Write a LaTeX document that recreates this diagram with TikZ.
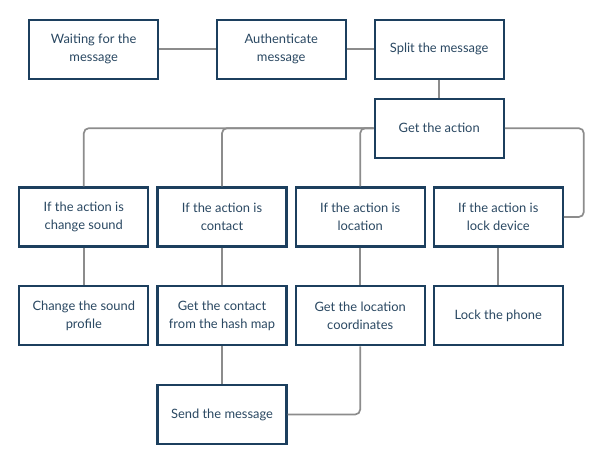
\documentclass[tikz,border=0pt]{standalone}
\usepackage{fontspec}
\setmainfont{Lato}
\definecolor{boxline}{HTML}{1C3F5E}
\definecolor{boxtext}{HTML}{2A4862}
\definecolor{conn}{HTML}{8C8C8C}
\begin{document}
\begin{tikzpicture}[x=1pt,y=-1pt,
  stepbox/.style={draw=boxline, line width=2.2pt, fill=white, minimum width=129pt, minimum height=59pt,
    inner sep=2pt, align=center, text=boxtext, font=\fontsize{12.9}{17.7}\selectfont},
  link/.style={draw=conn, line width=1.7pt, rounded corners=5pt}]
\useasboundingbox[fill=white] (0,0) rectangle (602,464);
% top row
\node[stepbox] (wait)  at (93.7,49.2)   {Waiting for the\\message};
\node[stepbox] (auth)  at (281.2,49.2)  {Authenticate\\message};
\node[stepbox] (split) at (439.2,49.2)  {Split the message};
\node[stepbox] (get)   at (439.2,128.2) {Get the action};
% row 2
\node[stepbox] (ifsound) at (83.8,217)   {If the action is\\change sound};
\node[stepbox] (ifcont)  at (222,217)    {If the action is\\contact};
\node[stepbox] (ifloc)   at (360.2,217)  {If the action is\\location};
\node[stepbox] (iflock)  at (498.3,217)  {If the action is\\lock device};
% row 3
\node[stepbox] (chsound) at (83.8,315.8)  {Change the sound\\profile};
\node[stepbox] (getcont) at (222,315.8)   {Get the contact\\from the hash map};
\node[stepbox] (getloc)  at (360.2,315.8) {Get the location\\coordinates};
\node[stepbox] (lockph)  at (498.3,315.8) {Lock the phone};
% row 4
\node[stepbox] (send) at (222,414.5) {Send the message};
% connectors
\path[link] (wait) -- (auth);
\path[link] (auth) -- (split);
\path[link] (split) -- (get);
\path[link] (get.west) -| (ifsound.north);
\path[link] (get.west) -| (ifcont.north);
\path[link] (get.west) -| (ifloc.north);
\path[link] (get.east) -- ++(79,0) |- (iflock.east);
\path[link] (ifsound) -- (chsound);
\path[link] (ifcont) -- (getcont);
\path[link] (ifloc) -- (getloc);
\path[link] (iflock) -- (lockph);
\path[link] (getcont) -- (send);
\path[link] (getloc.south) |- (send.east);
\end{tikzpicture}
\end{document}
